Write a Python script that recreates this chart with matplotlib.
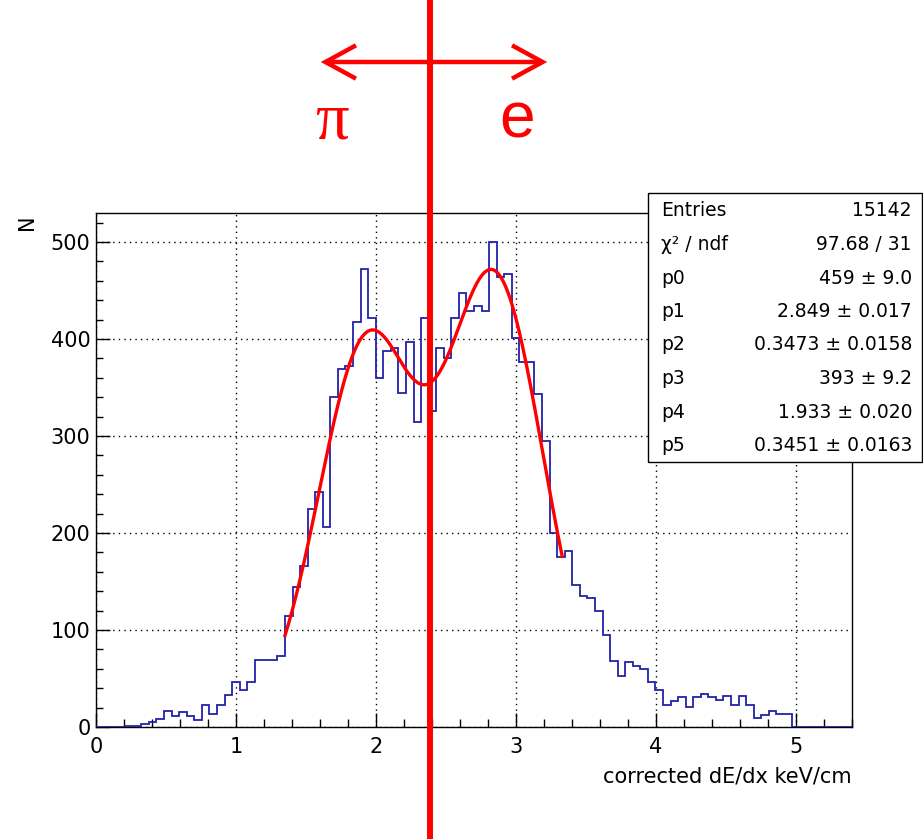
import numpy as np
import matplotlib
matplotlib.use("Agg")
import matplotlib.pyplot as plt
from matplotlib.patches import Rectangle, FancyArrowPatch

# histogram: 100 bins on [0, 5.4]
x_min, x_max, n_bins = 0.0, 5.4, 100
counts = [0, 0, 0, 0, 1, 1, 3, 5, 8, 17,
          11, 15, 11, 7, 23, 13, 23, 33, 46, 38,
          46, 69, 69, 69, 73, 114, 144, 166, 225, 242,
          206, 340, 369, 372, 418, 472, 422, 360, 388, 391,
          344, 397, 314, 422, 326, 391, 381, 422, 447, 429,
          434, 429, 500, 464, 467, 401, 376, 376, 343, 295,
          200, 175, 181, 146, 135, 133, 120, 95, 68, 53,
          67, 63, 60, 46, 38, 23, 27, 31, 21, 31,
          34, 31, 28, 32, 23, 32, 23, 9, 12, 16,
          13, 13, 0, 0, 0, 0, 0, 0, 0, 0]

# double gaussian fit parameters (from stats box)
p = [459, 2.849, 0.3473, 393, 1.933, 0.3451]
fit_range = (1.35, 3.33)
cut_x = 2.385

stat_labels = ["Entries", "\u03c7\u00b2 / ndf", "p0", "p1", "p2", "p3", "p4", "p5"]
stat_values = ["15142", "97.68 / 31", "459 \u00b1 9.0", "2.849 \u00b1 0.017",
               "0.3473 \u00b1 0.0158", "393 \u00b1 9.2", "1.933 \u00b1 0.020",
               "0.3451 \u00b1 0.0163"]

plt.rcParams['font.family'] = ['DejaVu Sans']

W, H = 923, 839
fig = plt.figure(figsize=(W / 100, H / 100), dpi=100)
ax = fig.add_axes([96 / W, 1 - 727 / H, 756 / W, 514 / H])

edges = np.linspace(x_min, x_max, n_bins + 1)
ax.stairs(counts, edges, baseline=0, color="#2222aa", lw=1.3, zorder=3)

xf = np.linspace(fit_range[0], fit_range[1], 300)
yf = p[0] * np.exp(-0.5 * ((xf - p[1]) / p[2]) ** 2) + p[3] * np.exp(-0.5 * ((xf - p[4]) / p[5]) ** 2)
ax.plot(xf, yf, color="#ff0000", lw=2.4, zorder=4)

ax.set_xlim(x_min, x_max)
ax.set_ylim(0, 530)
ax.set_xticks(range(0, 6))
ax.set_xticks(np.arange(0, 5.41, 0.2), minor=True)
ax.set_yticks(range(0, 501, 100))
ax.set_yticks(range(0, 521, 20), minor=True)
ax.tick_params(axis="both", which="both", direction="in", top=False, right=False)
ax.tick_params(axis="x", which="major", length=10, width=1, pad=7, labelsize=15)
ax.tick_params(axis="x", which="minor", length=6, width=1)
ax.tick_params(axis="y", which="major", length=10, width=1, pad=4, labelsize=15)
ax.tick_params(axis="y", which="minor", length=5, width=1)
ax.grid(True, which="major", color="black", linestyle=(0, (1, 3)), lw=1)
for s in ax.spines.values():
    s.set_linewidth(1)

fig.text(852 / W, 1 - 776 / H, "corrected dE/dx keV/cm", ha="right", va="center", fontsize=15)
fig.text(27 / W, 1 - 222 / H, "N", ha="center", va="center", rotation=90, fontsize=15)

# stats box
box_l, box_r, box_t, box_b = 648, 922, 193, 462
fig.patches.append(Rectangle((box_l / W, 1 - box_b / H), (box_r - box_l) / W, (box_b - box_t) / H,
                             transform=fig.transFigure, facecolor="white", edgecolor="black",
                             lw=1, zorder=5))
for i, (lab, val) in enumerate(zip(stat_labels, stat_values)):
    yy = 1 - (211 + 33.5 * i) / H
    fig.text(661 / W, yy, lab, ha="left", va="center", fontsize=13.5, zorder=6)
    fig.text(912 / W, yy, val, ha="right", va="center", fontsize=13.5, zorder=6)

# pi / e separation line and arrow
ax.axvline(cut_x, ymin=-112 / 514, ymax=727 / 514, color="#ff0000", lw=4.3, clip_on=False, zorder=7)
fig.patches.append(FancyArrowPatch(
    (318 / W, 1 - 62 / H), (550 / W, 1 - 62 / H), transform=fig.transFigure,
    arrowstyle="<->,head_length=0.55,head_width=0.3", mutation_scale=40,
    color="#ff0000", lw=3.2, capstyle="butt", joinstyle="miter"))
fig.text(332 / W, 1 - 122 / H, "\u03c0", ha="center", va="center", fontsize=48,
         color="#ff0000", family="Liberation Serif")
fig.text(517 / W, 1 - 120 / H, "e", ha="center", va="center", fontsize=46,
         color="#ff0000", family="Liberation Sans")

fig.savefig("out.png", dpi=100)
